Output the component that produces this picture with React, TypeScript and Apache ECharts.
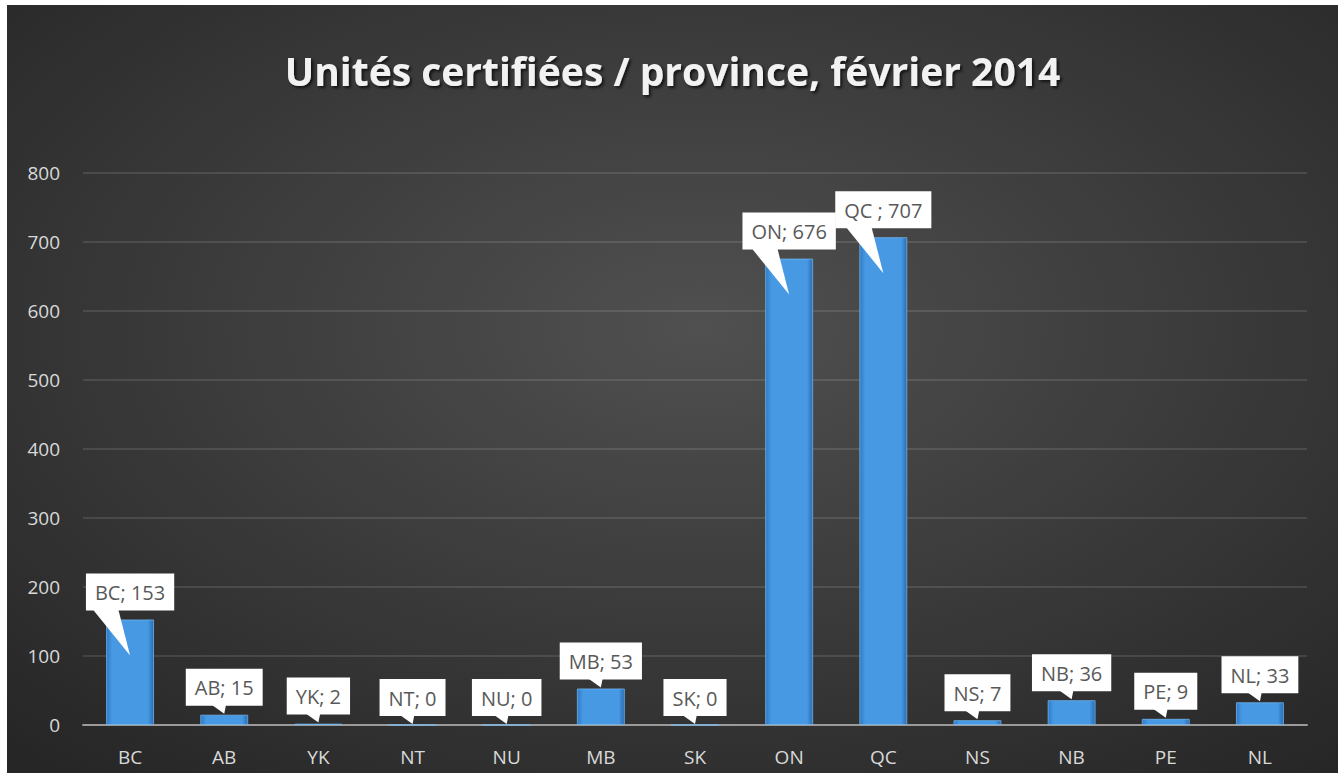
import React, { useEffect, useRef } from "react";
import * as echarts from "echarts";

const titleText = "Unités certifiées / province, février 2014";
const categories = ["BC", "AB", "YK", "NT", "NU", "MB", "SK", "ON", "QC", "NS", "NB", "PE", "NL"];
const labelNames = ["BC", "AB", "YK", "NT", "NU", "MB", "SK", "ON", "QC ", "NS", "NB", "PE", "NL"];
const values = [153, 15, 2, 0, 0, 53, 0, 676, 707, 7, 36, 9, 33];
const yMin = 0;
const yMax = 800;
const yStep = 100;

export default function App() {
  const ref = useRef<HTMLDivElement>(null);
  useEffect(() => {
    if (!ref.current) return;
    const chart = echarts.init(ref.current, null, { renderer: "svg" });
    const font = '"Open Sans", sans-serif';
    const calloutData = values.map((v, i) => [i, v, labelNames[i]]);
    chart.setOption({
      animation: false,
      backgroundColor: {
        type: "radial",
        x: 0.52,
        y: 0.42,
        r: 0.75,
        colorStops: [
          { offset: 0, color: "#505050" },
          { offset: 1, color: "#262626" },
        ],
      },
      title: {
        text: titleText,
        left: "center",
        top: 41,
        textStyle: {
          color: "#f2f2f2",
          fontSize: 39,
          fontWeight: "bold",
          fontFamily: "Open Sans",
          textShadowColor: "rgba(0,0,0,0.7)",
          textShadowBlur: 3,
          textShadowOffsetX: 2,
          textShadowOffsetY: 2,
        },
      },
      grid: { left: 76, right: 31, top: 168, bottom: 48, containLabel: false },
      xAxis: {
        type: "category",
        data: categories,
        axisLine: { show: true, lineStyle: { color: "#9a9a9a", width: 2 } },
        axisTick: { show: false },
        axisLabel: { color: "#d9d9d9", fontSize: 19, margin: 22, fontFamily: "Open Sans" },
        splitLine: { show: false },
      },
      yAxis: {
        type: "value",
        min: yMin,
        max: yMax,
        interval: yStep,
        axisLine: { show: false },
        axisTick: { show: false },
        axisLabel: { color: "#d9d9d9", fontSize: 19, margin: 23, fontFamily: "Open Sans" },
        splitLine: { lineStyle: { color: "rgba(255,255,255,0.15)", width: 1.5 } },
      },
      series: [
        {
          type: "bar",
          data: values,
          barWidth: 48,
          itemStyle: {
            color: {
              type: "linear",
              x: 0,
              y: 0,
              x2: 1,
              y2: 0,
              colorStops: [
                { offset: 0, color: "#2e7bc6" },
                { offset: 0.12, color: "#4799e4" },
                { offset: 0.88, color: "#4799e4" },
                { offset: 1, color: "#2a6cb0" },
              ],
            },
            borderColor: "rgba(120,190,250,0.7)",
            borderWidth: 1,
          },
          z: 2,
        },
        {
          type: "custom",
          coordinateSystem: "cartesian2d",
          data: calloutData,
          z: 10,
          clip: false,
          renderItem: (params: any, api: any) => {
            const idx = api.value(0);
            const val = api.value(1);
            const name = calloutData[params.dataIndex][2];
            const top = api.coord([idx, val]);
            const base = api.coord([idx, 0]);
            const cx = top[0];
            const tall = base[1] - top[1] > 100;
            const boxBottom = top[1] - 9;
            const tipY = tall ? top[1] + 36 : top[1] - 1;
            const b1 = tall ? cx - 38 : cx - 14;
            const b2 = tall ? cx - 12 : cx + 2;
            return {
              type: "group",
              children: [
                {
                  type: "polygon",
                  shape: { points: [[b1, boxBottom - 2], [b2, boxBottom - 2], [cx, tipY]] },
                  style: { fill: "#ffffff" },
                },
                {
                  type: "text",
                  x: cx,
                  y: boxBottom,
                  style: {
                    text: `${name}; ${val}`,
                    fill: "#595959",
                    font: `20px ${font}`,
                    align: "center",
                    verticalAlign: "bottom",
                    backgroundColor: "#ffffff",
                    padding: [9, 9, 8, 9],
                  },
                },
              ],
            };
          },
        },
      ],
    });
    return () => chart.dispose();
  }, []);
  return (
    <div
      ref={ref}
      style={{ position: "absolute", left: 7, top: 5, width: 1331, height: 768 }}
    />
  );
}
